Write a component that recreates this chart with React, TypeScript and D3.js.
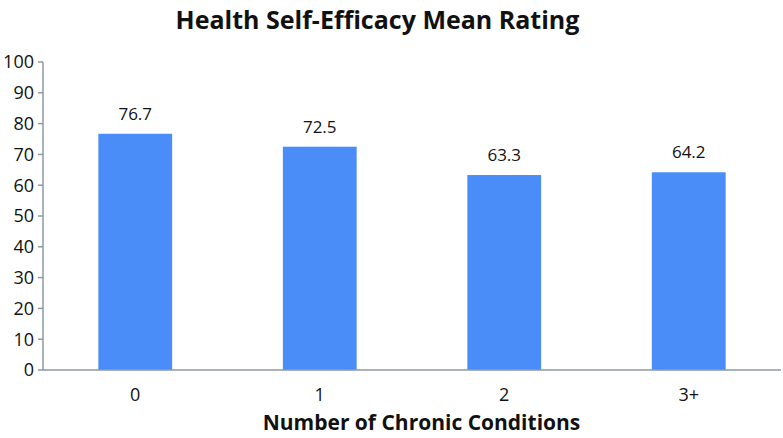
import React from "react";
import * as d3 from "d3";

const categories = ["0", "1", "2", "3+"];
const values = [76.7, 72.5, 63.3, 64.2];
const yTicks = [0, 10, 20, 30, 40, 50, 60, 70, 80, 90, 100];

const W = 783;
const H = 438;
const m = { left: 43, right: 2, top: 62, bottom: 68 };

export default function App() {
  const x = d3
    .scaleBand<string>()
    .domain(categories)
    .range([m.left, W - m.right])
    .paddingInner(0.6)
    .paddingOuter(0.3);
  const y = d3.scaleLinear().domain([0, 100]).range([H - m.bottom, m.top]);
  const axisColor = "#8c9aa3";
  const font = "'Open Sans', 'Liberation Sans', sans-serif";
  return (
    <svg
      width={W}
      height={H}
      style={{ position: "absolute", left: 0, top: 0, background: "#fff" }}
      fontFamily={font}
    >
      <text x={377.5} y={29} textAnchor="middle" fontSize={25} fontWeight="bold" fill="#111">
        Health Self-Efficacy Mean Rating
      </text>
      {categories.map((c, i) => (
        <g key={c}>
          <rect
            x={x(c)!}
            y={y(values[i])}
            width={x.bandwidth()}
            height={y(0) - y(values[i])}
            fill="#4b8df8"
          />
          <text
            x={x(c)! + x.bandwidth() / 2}
            y={y(values[i]) - 14}
            textAnchor="middle"
            fontSize={17}
            fill="#111"
          >
            {values[i].toFixed(1)}
          </text>
          <text
            x={x(c)! + x.bandwidth() / 2}
            y={401}
            textAnchor="middle"
            fontSize={18}
            fill="#111"
          >
            {c}
          </text>
        </g>
      ))}
      <line x1={m.left} x2={m.left} y1={y(100)} y2={y(0)} stroke={axisColor} strokeWidth={1.5} />
      <line x1={m.left} x2={W - m.right} y1={y(0)} y2={y(0)} stroke={axisColor} strokeWidth={1.5} />
      {yTicks.map((t) => (
        <g key={t}>
          <line x1={m.left - 5} x2={m.left} y1={y(t)} y2={y(t)} stroke={axisColor} strokeWidth={1.5} />
          <text x={m.left - 9} y={y(t)} dy="0.36em" textAnchor="end" fontSize={18} fill="#111">
            {t}
          </text>
        </g>
      ))}
      <text x={421.5} y={430} textAnchor="middle" fontSize={21} fontWeight="bold" fill="#111">
        Number of Chronic Conditions
      </text>
    </svg>
  );
}
